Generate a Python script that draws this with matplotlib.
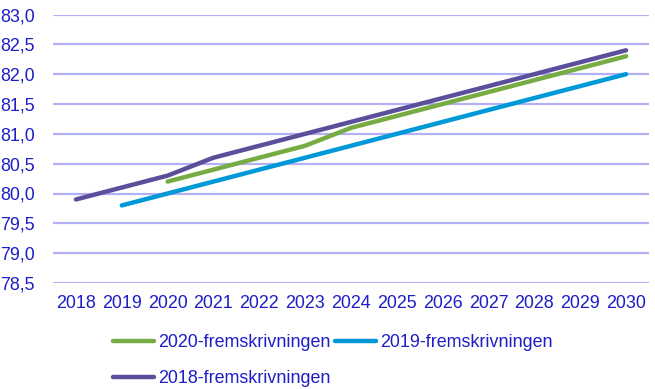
import matplotlib
matplotlib.use("Agg")
import matplotlib.pyplot as plt

years = list(range(2018, 2031))
year_labels = [str(y) for y in years]

years_2020 = list(range(2020, 2031))
vals_2020 = [80.2, 80.4, 80.6, 80.8, 81.1, 81.3, 81.5, 81.7, 81.9, 82.1, 82.3]

years_2019 = list(range(2019, 2031))
vals_2019 = [79.8, 80.0, 80.2, 80.4, 80.6, 80.8, 81.0, 81.2, 81.4, 81.6, 81.8, 82.0]

years_2018 = list(range(2018, 2031))
vals_2018 = [79.9, 80.1, 80.3, 80.6, 80.8, 81.0, 81.2, 81.4, 81.6, 81.8, 82.0, 82.2, 82.4]

yticks = [78.5, 79.0, 79.5, 80.0, 80.5, 81.0, 81.5, 82.0, 82.5, 83.0]
ytick_labels = [f"{v:.1f}".replace(".", ",") for v in yticks]

names = ["2020-fremskrivningen", "2019-fremskrivningen", "2018-fremskrivningen"]
colors = ["#77AB43", "#0099D8", "#5B4F9B"]
text_color = "#1E1EC8"
grid_color = "#B3B0F5"

plt.rcParams['font.family'] = ['Liberation Sans', 'DejaVu Sans']

W, H = 655, 389
fig = plt.figure(figsize=(W / 100, H / 100), dpi=100)
ax = fig.add_axes([53 / W, 1 - 283 / H, (649 - 53) / W, (283 - 14.5) / H])

idx = {y: i for i, y in enumerate(years)}
series = [(years_2020, vals_2020), (years_2019, vals_2019), (years_2018, vals_2018)]
lines = []
for (ys, vs), name, c in zip(series, names, colors):
    ln, = ax.plot([idx[y] for y in ys], vs, color=c, lw=3.2, solid_capstyle='round',
                  solid_joinstyle='round', label=name, zorder=3)
    lines.append(ln)

ax.set_xlim(-0.5, len(years) - 0.5)
ax.set_ylim(78.5, 83.0)
ax.set_xticks(range(len(years)))
ax.set_xticklabels(year_labels)
ax.set_yticks(yticks)
ax.set_yticklabels(ytick_labels)
ax.grid(axis='y', color=grid_color, lw=1.6, zorder=0)
ax.set_axisbelow(True)
for s in ax.spines.values():
    s.set_visible(False)
ax.tick_params(axis='both', length=0, labelsize=12.9, colors=text_color)
ax.tick_params(axis='y', pad=13)
ax.tick_params(axis='x', pad=9)

leg = fig.legend([lines[0], lines[2], lines[1]], [names[0], names[2], names[1]],
                 ncol=2, loc='upper left', bbox_to_anchor=(113 / W, 1 - 334 / H),
                 bbox_transform=fig.transFigure, frameon=False, fontsize=12.9,
                 handlelength=2.3, handletextpad=0.22, columnspacing=0.25,
                 labelspacing=1.05, borderpad=0, borderaxespad=0)
for t in leg.get_texts():
    t.set_color(text_color)

fig.savefig("out.png", dpi=100)
